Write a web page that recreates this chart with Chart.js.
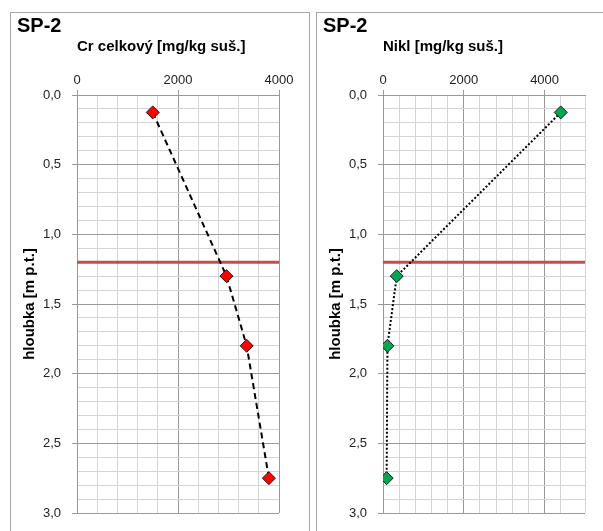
<!DOCTYPE html>
<html>
<head>
<meta charset="utf-8">
<script src="https://cdn.jsdelivr.net/npm/chart.js@4.4.1/dist/chart.umd.min.js"></script>
<style>
  body { margin: 0; background: #fff; }
  .panel { position: absolute; top: 12px; height: 540px; border: 1px solid #a6a6a6; background: #fff; }
  #panelCr { left: 10px; width: 298px; }
  #panelNi { left: 316px; width: 300px; }
  canvas { display: block; }
</style>
</head>
<body>
<div class="panel" id="panelCr"><canvas id="crChart" width="298" height="520"></canvas></div>
<div class="panel" id="panelNi"><canvas id="niChart" width="286" height="520"></canvas></div>
<script>
// data
const sampleName = 'SP-2';
const depths = [0.125, 1.3, 1.8, 2.75];
const crValues = [1500, 2960, 3360, 3800];
const niValues = [4400, 340, 110, 90];
const limitDepth = 1.2;
const depthRange = [0, 3];
const crRange = [0, 4000];
const niRange = [0, 5000];

const font = 'Arial, "Liberation Sans", sans-serif';

function isMajor(v, step) {
    return Math.abs(v / step - Math.round(v / step)) < 1e-6;
}

function makeChart(id, axisTitle, values, range, fill, dash, padRight) {
    const ctx = document.getElementById(id).getContext('2d');
    return new Chart(ctx, {
        type: 'scatter',
        data: {
            datasets: [{
                data: values.map((v, i) => ({ x: v, y: depths[i] })),
                showLine: true,
                borderColor: '#000',
                borderWidth: 2,
                borderDash: dash,
                pointStyle: 'rectRot',
                pointRadius: 6.5,
                pointBackgroundColor: fill,
                pointBorderColor: '#1a1a1a',
                pointBorderWidth: 1
            }, {
                // hranice (red limit line)
                data: [{ x: range[0], y: limitDepth }, { x: range[1], y: limitDepth }],
                showLine: true,
                borderColor: '#c0504d',
                borderWidth: 3,
                pointRadius: 0
            }]
        },
        options: {
            responsive: false,
            animation: false,
            layout: { padding: { left: 6, top: 0, right: padRight, bottom: 20 } },
            plugins: {
                legend: { display: false },
                tooltip: { enabled: false },
                title: {
                    display: true,
                    text: sampleName,
                    align: 'start',
                    color: '#000',
                    font: { family: font, size: 20, weight: 'bold' },
                    padding: { top: 1, bottom: 0 }
                }
            },
            scales: {
                x: {
                    type: 'linear',
                    position: 'top',
                    min: range[0],
                    max: range[1],
                    afterFit: (s) => { s.height = 57; },
                    title: {
                        display: true,
                        text: axisTitle,
                        align: 'start',
                        color: '#000',
                        font: { family: font, size: 15, weight: 'bold' },
                        padding: { top: 0, bottom: 0 }
                    },
                    ticks: {
                        stepSize: 400,
                        autoSkip: false,
                        maxRotation: 0,
                        padding: 2,
                        color: '#222',
                        font: { family: font, size: 13 },
                        callback: (v) => isMajor(v, 2000) ? String(v) : ''
                    },
                    grid: {
                        tickLength: 5,
                        color: (c) => c.tick && isMajor(c.tick.value, 2000) ? '#999' : '#d4d4d4',
                        tickColor: (c) => c.tick && isMajor(c.tick.value, 2000) ? '#999' : 'rgba(0,0,0,0)'
                    },
                    border: { color: '#999' }
                },
                y: {
                    type: 'linear',
                    reverse: true,
                    min: depthRange[0],
                    max: depthRange[1],
                    afterFit: (s) => { s.width = 60; },
                    title: {
                        display: true,
                        text: 'hloubka [m p.t.]',
                        color: '#000',
                        font: { family: font, size: 15, weight: 'bold' },
                        padding: { top: 4, bottom: 0 }
                    },
                    ticks: {
                        stepSize: 0.1,
                        autoSkip: false,
                        padding: 11,
                        color: '#222',
                        font: { family: font, size: 13 },
                        callback: (v) => isMajor(v, 0.5) ? v.toFixed(1).replace('.', ',') : ''
                    },
                    grid: {
                        tickLength: 5,
                        color: (c) => c.tick && isMajor(c.tick.value, 0.5) ? '#999' : '#d4d4d4',
                        tickColor: (c) => c.tick && isMajor(c.tick.value, 0.5) ? '#999' : 'rgba(0,0,0,0)'
                    },
                    border: { color: '#999' }
                }
            }
        }
    });
}

const crChart = makeChart('crChart', 'Cr celkový [mg/kg suš.]', crValues, crRange, '#ff0000', [6, 4], 30);
const niChart = makeChart('niChart', 'Nikl [mg/kg suš.]', niValues, niRange, '#00a651', [2, 2], 18);
</script>
</body>
</html>
